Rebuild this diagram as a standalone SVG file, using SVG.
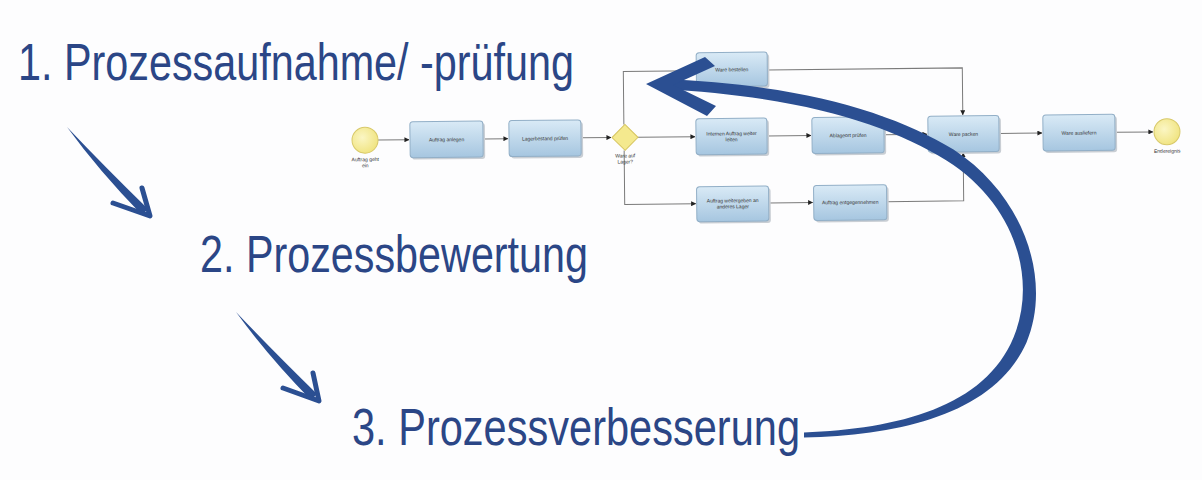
<svg xmlns="http://www.w3.org/2000/svg" width="1202" height="480" viewBox="0 0 1202 480">
<defs>
<linearGradient id="taskGrad" x1="0" y1="0" x2="0" y2="1">
<stop offset="0" stop-color="#d9eaf6"/>
<stop offset="1" stop-color="#a6c6e0"/>
</linearGradient>
<radialGradient id="evtGrad" cx="0.4" cy="0.4" r="0.7">
<stop offset="0" stop-color="#fbf6c4"/>
<stop offset="1" stop-color="#efe27a"/>
</radialGradient>
<marker id="dot" viewBox="0 0 6 6" refX="5.5" refY="3" markerWidth="5" markerHeight="5" orient="auto" markerUnits="userSpaceOnUse">
<path d="M0,0 L6,3 L0,6 Z" fill="#222"/>
</marker>
<style>
.bg{fill:#fdfdfe}
.big{font-family:"Liberation Sans",Arial,sans-serif;font-size:52px;fill:#2b4686}
.task{fill:url(#taskGrad);stroke:#92afc7;stroke-width:1}
.shadow{fill:#c9ced4}
.tl{font-family:"Liberation Sans",Arial,sans-serif;font-size:5px;fill:#333;text-anchor:middle}
.flow{fill:none;stroke:#7a7a7a;stroke-width:1;marker-end:url(#dot)}
.evt{fill:url(#evtGrad);stroke:#d8c96a;stroke-width:1}
.gw{fill:#f4e98e;stroke:#d6c560;stroke-width:1}
.arr{fill:#2b4f92}
.head{fill:none;stroke:#2b4f92;stroke-linecap:round;stroke-linejoin:round}
</style>
</defs>
<rect class="bg" x="0" y="0" width="1202" height="480"/>

<g id="process" transform="rotate(-0.6 760 136)">
<g id="connectors">
<path class="flow" d="M378,136 L409,136"/>
<path class="flow" d="M483,136 L508,136"/>
<path class="flow" d="M581,136 L611,136"/>
<path class="flow" d="M624,123 L624,70 L696,70"/>
<path class="flow" d="M768,70 L963,70 L963,117"/>
<path class="flow" d="M638,136 L695,136"/>
<path class="flow" d="M767,136 L811,136"/>
<path class="flow" d="M884,136 L927,136"/>
<path class="flow" d="M999,136 L1042,136"/>
<path class="flow" d="M1115,136 L1153,136"/>
<path class="flow" d="M624,149 L624,203 L695,203"/>
<path class="flow" d="M768,203 L812,203"/>
<path class="flow" d="M886,203 L963,203 L963,155"/>
</g>
<g id="start">
<circle class="evt" cx="365" cy="136" r="13"/>
<text class="tl" x="365" y="157">Auftrag geht</text>
<text class="tl" x="365" y="163">ein</text>
</g>
<g id="t-auftrag">
<rect class="shadow" x="412" y="120" width="73" height="36" rx="3"/>
<rect class="task" x="410" y="118" width="73" height="36" rx="3"/>
<text class="tl" x="446.5" y="138">Auftrag anlegen</text>
</g>
<g id="t-lager">
<rect class="shadow" x="511" y="120" width="72" height="36" rx="3"/>
<rect class="task" x="509" y="118" width="72" height="36" rx="3"/>
<text class="tl" x="545" y="138">Lagerbestand prüfen</text>
</g>
<g id="gateway">
<path class="gw" d="M625,123 L638,136 L625,149 L612,136 Z"/>
<text class="tl" x="625" y="156">Ware auf</text>
<text class="tl" x="625" y="162">Lager?</text>
</g>
<g id="t-bestellen">
<rect class="shadow" x="699" y="54" width="71" height="34" rx="3"/>
<rect class="task" x="697" y="52" width="71" height="34" rx="3"/>
<text class="tl" x="732.5" y="71">Ware bestellen</text>
</g>
<g id="t-intern">
<rect class="shadow" x="698" y="120" width="71" height="36" rx="3"/>
<rect class="task" x="696" y="118" width="71" height="36" rx="3"/>
<text class="tl" x="731.5" y="135">Internen Auftrag weiter</text>
<text class="tl" x="731.5" y="141">leiten</text>
</g>
<g id="t-ablage">
<rect class="shadow" x="814" y="120" width="72" height="36" rx="3"/>
<rect class="task" x="812" y="118" width="72" height="36" rx="3"/>
<text class="tl" x="848" y="138">Ablageort prüfen</text>
</g>
<g id="t-packen">
<rect class="shadow" x="930" y="120" width="71" height="36" rx="3"/>
<rect class="task" x="928" y="118" width="71" height="36" rx="3"/>
<text class="tl" x="963.5" y="138">Ware packen</text>
</g>
<g id="t-ausliefern">
<rect class="shadow" x="1045" y="120" width="72" height="36" rx="3"/>
<rect class="task" x="1043" y="118" width="72" height="36" rx="3"/>
<text class="tl" x="1079" y="138">Ware ausliefern</text>
</g>
<g id="end">
<circle class="evt" cx="1167" cy="136" r="13" stroke-width="2"/>
<text class="tl" x="1167" y="157">Endereignis</text>
</g>
<g id="t-weitergeben">
<rect class="shadow" x="698" y="188" width="72" height="35" rx="3"/>
<rect class="task" x="696" y="186" width="72" height="35" rx="3"/>
<text class="tl" x="732" y="202">Auftrag weitergeben an</text>
<text class="tl" x="732" y="208">anderes Lager</text>
</g>
<g id="t-entgegen">
<rect class="shadow" x="815" y="188" width="73" height="35" rx="3"/>
<rect class="task" x="813" y="186" width="73" height="35" rx="3"/>
<text class="tl" x="849.5" y="205">Auftrag entgegennehmen</text>
</g>
</g>

<g id="step1"><text class="big" x="18" y="80" textLength="556" lengthAdjust="spacingAndGlyphs">1. Prozessaufnahme/ -prüfung</text></g>
<g id="step2"><text class="big" x="200" y="272" textLength="388" lengthAdjust="spacingAndGlyphs">2. Prozessbewertung</text></g>
<g id="step3"><text class="big" x="352" y="445" textLength="448" lengthAdjust="spacingAndGlyphs">3. Prozessverbesserung</text></g>

<g id="step-connectors">
<path class="arr" d="M67,127 Q104,166 148,209 L142,215 Q99,171 67,127 Z"/>
<path class="head" stroke-width="5" d="M113,203 L150,216 L142,188"/>
<path class="arr" d="M236,312 Q273,351 317,394 L311,400 Q268,356 236,312 Z"/>
<path class="head" stroke-width="5" d="M283,388 L319,401 L313,373"/>
<path class="arr" d="M804,437.5 C902,435.5 995,413 1026.4,342.7 C1052,282 1026,197 953.5,149.5 C892,112 800,84 660,79 L660,89 C800,96 888,124 946.5,160.5 C1014,203 1038,278 1013.6,337.3 C985,407 898,429 804,432.5 Z"/>
<path class="arr" d="M646,84 L705,57 L715,66 L673,85 L716,106 L707,116 Z"/>
</g>
</svg>
